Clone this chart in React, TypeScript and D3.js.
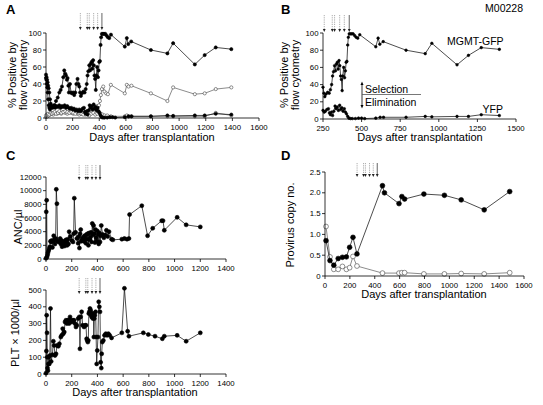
import React from 'react';
import * as d3 from 'd3';

type P = [number, number];

// Days of the treatment arrows
const arrowDays = [258, 310, 325, 358, 388, 420];

// Panel A / B: % positive by flow cytometry
const gfpGran: P[] = [[0,51],[4,48],[8,45],[12,42],[16,38],[20,35],[25,30],[30,22],[35,17],[40,13],[50,12],[55,14],[65,15],[75,20],[88,24],[100,30],[110,33],[120,37],[130,48],[137,56],[145,52],[150,50],[157,45],[162,47],[168,38],[172,30],[180,40],[188,30],[195,29],[205,30],[212,27],[220,30],[228,40],[237,46],[244,40],[250,37],[256,30],[262,26],[270,29],[280,31],[290,30],[298,34],[306,40],[312,50],[318,55],[325,62],[331,56],[337,64],[343,66],[348,58],[354,68],[359,62],[364,50],[369,46],[374,33],[378,50],[384,60],[390,48],[395,56],[400,66],[405,67],[410,86],[414,95],[420,99],[428,99],[436,99],[445,99],[455,97],[465,95],[475,94],[488,98],[592,84],[607,94],[618,87],[640,90],[788,80],[912,76],[955,88],[1118,63],[1192,74],[1275,83],[1392,81]];
const gfpLymph: P[] = [[0,3],[8,4],[15,5],[25,4],[35,6],[45,5],[55,6],[65,7],[75,5],[90,6],[100,8],[115,6],[130,7],[145,8],[160,7],[175,6],[190,7],[205,6],[220,5],[235,7],[250,6],[265,5],[280,4],[295,6],[310,7],[325,9],[340,10],[355,11],[370,13],[385,14],[398,15],[405,20],[412,27],[420,34],[430,37],[440,31],[452,29],[465,28],[487,39],[592,29],[607,39],[620,37],[642,38],[788,29],[912,20],[955,36],[1118,28],[1192,29],[1275,34],[1392,36]];
const yfpGran: P[] = [[0,47],[3,45],[6,40],[9,36],[12,30],[16,22],[20,15],[25,12],[30,10],[35,12],[40,14],[50,13],[60,15],[70,12],[80,14],[90,13],[100,15],[110,12],[120,14],[130,13],[140,15],[150,12],[160,14],[170,12],[180,11],[190,12],[200,10],[210,11],[220,9],[230,10],[240,8],[250,10],[258,8],[265,9],[275,11],[285,12],[292,7],[298,5],[305,8],[312,4],[320,9],[328,15],[335,12],[342,14],[350,10],[358,16],[365,11],[372,13],[380,9],[388,12],[395,8],[402,6],[410,3],[418,1],[428,0.5],[440,0.5],[460,0.5],[480,1],[500,1],[520,0.5],[592,1],[620,2],[642,2],[788,2],[912,3],[955,2.5],[1118,3],[1192,3],[1275,5],[1392,4]];
const yfpLymph: P[] = [[0,1],[10,2],[20,3],[30,4],[40,5],[55,4],[70,6],[85,5],[100,6],[115,5],[130,7],[145,6],[160,5],[175,7],[190,6],[205,5],[220,6],[235,5],[250,4],[265,5],[280,6],[295,4],[310,5],[325,3],[340,5],[355,6],[370,4],[385,5],[400,6],[412,5],[425,4],[440,3],[460,3],[487,2],[592,2],[607,3],[620,2],[642,2],[788,2],[912,2],[955,2],[1118,2],[1192,2],[1275,6],[1392,3]];

// Panel C: ANC/µl
const anc: P[] = [[0,100],[2,6900],[5,8600],[8,300],[12,600],[15,900],[20,1200],[25,1500],[30,1800],[35,2600],[40,2500],[45,2700],[50,1700],[55,2600],[60,3400],[65,2800],[70,2200],[75,3000],[80,10200],[85,8100],[90,2600],[100,2500],[110,3000],[115,2200],[120,2700],[125,1800],[130,2300],[135,2100],[140,2600],[145,1900],[150,2300],[155,2800],[160,2400],[165,2000],[170,2900],[175,2200],[180,4000],[190,3300],[200,2700],[210,2500],[215,3700],[220,8900],[230,3900],[240,3000],[250,2300],[255,3300],[260,1600],[265,3700],[270,4300],[275,2600],[280,2900],[290,3200],[295,2600],[300,3400],[305,2900],[310,2300],[315,3600],[320,2900],[325,3700],[330,2000],[335,3800],[340,2800],[345,3200],[350,3900],[355,2500],[360,5200],[365,3500],[370,4900],[375,3700],[380,2400],[385,4300],[390,3100],[395,2600],[400,4100],[405,3600],[410,2200],[415,3800],[420,2500],[425,3400],[430,4900],[440,3600],[450,3100],[460,3500],[470,4200],[480,3300],[490,4000],[510,2900],[520,2800],[590,2900],[610,3000],[630,2900],[645,3000],[650,6500],[745,7800],[790,3400],[830,4500],[900,5600],[910,5600],[920,4200],[1020,6100],[1090,5000],[1200,4700]];

// Panel C: PLT x 1000/µl
const plt: P[] = [[0,5],[3,137],[5,350],[8,245],[10,100],[12,35],[15,20],[18,60],[22,100],[26,60],[30,110],[35,390],[40,75],[50,115],[57,195],[63,170],[70,110],[78,120],[85,170],[96,165],[104,180],[115,220],[122,230],[130,270],[135,240],[142,250],[148,310],[155,320],[162,300],[168,320],[174,320],[180,300],[187,340],[195,320],[200,310],[210,320],[218,320],[225,300],[233,280],[240,290],[250,330],[259,340],[264,150],[270,340],[277,370],[285,290],[296,280],[305,290],[311,290],[316,210],[321,200],[325,190],[329,200],[333,360],[337,370],[342,390],[347,380],[351,350],[355,340],[360,360],[364,330],[368,360],[372,220],[376,330],[380,350],[386,370],[390,220],[394,60],[399,140],[404,220],[410,430],[415,400],[420,370],[425,70],[430,35],[433,120],[438,190],[446,200],[455,230],[465,240],[475,230],[485,240],[495,230],[510,215],[590,245],[610,510],[635,255],[645,225],[757,245],[796,235],[848,225],[905,210],[920,225],[1020,230],[1090,195],[1200,245]];

// Panel D: provirus copy number
const copyFilled: P[] = [[8,0.85],[40,0.37],[71,0.26],[106,0.42],[140,0.45],[172,0.46],[198,0.69],[225,0.93],[257,0.53],[462,2.17],[478,2.0],[595,1.74],[618,1.91],[640,1.85],[795,1.97],[960,1.94],[1095,1.83],[1280,1.59],[1485,2.03]];
const copyOpen: P[] = [[8,1.19],[40,0.46],[71,0.16],[106,0.16],[140,0.23],[172,0.16],[198,0.2],[225,0.47],[257,0.24],[462,0.07],[595,0.07],[618,0.08],[640,0.08],[795,0.05],[960,0.05],[1095,0.06],[1280,0.05],[1485,0.08]];

const ticksA = [0, 200, 400, 600, 800, 1000, 1200, 1400, 1600];
const ticksB = [250, 500, 750, 1000, 1250, 1500];
const ticksC = [0, 200, 400, 600, 800, 1000, 1200, 1400];
const ticksPct = [0, 20, 40, 60, 80, 100];
const ticksAnc = [0, 2000, 4000, 6000, 8000, 10000, 12000];
const ticksPlt = [0, 100, 200, 300, 400, 500];
const ticksCopy = [0, 0.5, 1.0, 1.5, 2.0, 2.5];

const FONT = "'Liberation Sans', Arial, Helvetica, sans-serif";
const TICK_FS = 7.8;

type Scale = d3.ScaleLinear<number, number>;

function Series({ data, x, y, filled, r }: { data: P[]; x: Scale; y: Scale; filled: boolean; r: number }) {
  const line = d3.line<P>().x(d => x(d[0])).y(d => y(d[1]));
  return (
    <g>
      <path d={line(data) || ''} fill="none" stroke={filled ? '#111' : '#666'} strokeWidth={0.75} />
      {data.map((d, i) => (
        <circle key={i} cx={x(d[0])} cy={y(d[1])} r={r}
          fill={filled ? '#000' : '#fff'} stroke={filled ? '#000' : '#444'} strokeWidth={0.6} />
      ))}
    </g>
  );
}

function XAxis({ x, y0, ticks, fmt }: { x: Scale; y0: number; ticks: number[]; fmt?: (v: number) => string }) {
  const [a, b] = x.range();
  return (
    <g>
      <line x1={a} x2={b} y1={y0} y2={y0} stroke="#000" strokeWidth={0.8} />
      {ticks.map(t => (
        <g key={t}>
          <line x1={x(t)} x2={x(t)} y1={y0} y2={y0 + 3} stroke="#000" strokeWidth={0.8} />
          <text x={x(t)} y={y0 + 11.5} textAnchor="middle" fontSize={TICK_FS} fontFamily={FONT}>{fmt ? fmt(t) : String(t)}</text>
        </g>
      ))}
    </g>
  );
}

function YAxis({ y, x0, ticks, fmt }: { y: Scale; x0: number; ticks: number[]; fmt?: (v: number) => string }) {
  const [a, b] = y.range();
  return (
    <g>
      <line x1={x0} x2={x0} y1={a} y2={b} stroke="#000" strokeWidth={0.8} />
      {ticks.map(t => (
        <g key={t}>
          <line x1={x0 - 3} x2={x0} y1={y(t)} y2={y(t)} stroke="#000" strokeWidth={0.8} />
          <text x={x0 - 4.5} y={y(t)} dy="0.34em" textAnchor="end" fontSize={TICK_FS} fontFamily={FONT}>{fmt ? fmt(t) : String(t)}</text>
        </g>
      ))}
    </g>
  );
}

function Arrows({ x, y1, y2 }: { x: Scale; y1: number; y2: number }) {
  return (
    <g>
      {arrowDays.map((d, i) => {
        const cx = x(d);
        const last = i === arrowDays.length - 1;
        return (
          <g key={i}>
            <line x1={cx} x2={cx} y1={y1} y2={y2 - 2} stroke={last ? '#222' : '#888'} strokeWidth={0.7}
              strokeDasharray={last ? undefined : '1.2,1'} />
            <path d={`M${cx - 1.4},${y2 - 3} L${cx + 1.4},${y2 - 3} L${cx},${y2} Z`} fill="#222" />
          </g>
        );
      })}
    </g>
  );
}

function YTitle({ x, y, lines, fs = 11 }: { x: number; y: number; lines: string[]; fs?: number }) {
  return (
    <g>
      {lines.map((l, i) => (
        <text key={i} transform={`translate(${x + i * 11},${y}) rotate(-90)`} textAnchor="middle" fontSize={fs} fontFamily={FONT}>{l}</text>
      ))}
    </g>
  );
}

function Label({ x, y, text }: { x: number; y: number; text: string }) {
  return <text x={x} y={y} fontSize={13} fontWeight="bold" fontFamily={FONT}>{text}</text>;
}

export default function App() {
  // Panel A
  const xA = d3.scaleLinear().domain([0, 1600]).range([46, 259]);
  const yA = d3.scaleLinear().domain([0, 100]).range([118, 33]);
  // Panel B
  const xB = d3.scaleLinear().domain([250, 1500]).range([323, 516]);
  const yB = d3.scaleLinear().domain([0, 100]).range([119, 33]);
  // Panel C
  const xC = d3.scaleLinear().domain([0, 1400]).range([46, 226]);
  const yC1 = d3.scaleLinear().domain([0, 12000]).range([259, 177]);
  const yC2 = d3.scaleLinear().domain([0, 500]).range([374, 290]);
  // Panel D
  const xD = d3.scaleLinear().domain([0, 1600]).range([325, 524]);
  const yD = d3.scaleLinear().domain([0, 2.5]).range([276, 172]);

  const bG = gfpGran.filter(d => d[0] >= 250);
  const bY = yfpGran.filter(d => d[0] >= 250);
  const fmtCopy = (v: number) => (v === 0 ? '0' : v.toFixed(1));

  return (
    <svg width={543} height={405} style={{ position: 'absolute', left: 0, top: 0, background: '#fff' }}>
      <rect width={543} height={405} fill="#fff" />
      {/* Panel A */}
      <Label x={6} y={14} text="A" />
      <Arrows x={xA} y1={13} y2={30} />
      <Series data={yfpLymph} x={xA} y={yA} filled={false} r={1.6} />
      <Series data={gfpLymph} x={xA} y={yA} filled={false} r={1.6} />
      <Series data={yfpGran} x={xA} y={yA} filled={true} r={1.6} />
      <Series data={gfpGran} x={xA} y={yA} filled={true} r={1.6} />
      <YAxis y={yA} x0={46} ticks={ticksPct} />
      <XAxis x={xA} y0={118} ticks={ticksA} />
      <YTitle x={16} y={75} lines={['% Positive by', 'flow cytometry']} />
      <text x={152} y={141} textAnchor="middle" fontSize={11} fontFamily={FONT}>Days after transplantation</text>

      {/* Panel B */}
      <Label x={281} y={14} text="B" />
      <text x={523} y={12} textAnchor="end" fontSize={10.5} fontFamily={FONT}>M00228</text>
      <Arrows x={xB} y1={15} y2={32} />
      <Series data={bY} x={xB} y={yB} filled={true} r={1.3} />
      <Series data={bG} x={xB} y={yB} filled={true} r={1.3} />
      <YAxis y={yB} x0={323} ticks={ticksPct} />
      <XAxis x={xB} y0={119} ticks={ticksB} />
      <YTitle x={288} y={75} lines={['% Positive by', 'flow cytometry']} />
      <text x={420} y={141} textAnchor="middle" fontSize={11} fontFamily={FONT}>Days after transplantation</text>
      <text x={447} y={45} fontSize={10.5} fontFamily={FONT}>MGMT-GFP</text>
      <text x={503} y={113} textAnchor="end" fontSize={10.5} fontFamily={FONT}>YFP</text>
      <g>
        <line x1={362} x2={362} y1={84} y2={106} stroke="#000" strokeWidth={0.8} />
        <path d="M360.5,85 L363.5,85 L362,81.5 Z" fill="#000" />
        <path d="M360.5,105 L363.5,105 L362,108.5 Z" fill="#000" />
        <line x1={362} x2={421} y1={94.5} y2={94.5} stroke="#555" strokeWidth={0.8} />
        <text x={365} y={92.5} fontSize={10.5} fontFamily={FONT}>Selection</text>
        <text x={365} y={106} fontSize={10.5} fontFamily={FONT}>Elimination</text>
      </g>

      {/* Panel C */}
      <Label x={6} y={160} text="C" />
      <Arrows x={xC} y1={165} y2={180} />
      <Series data={anc} x={xC} y={yC1} filled={true} r={2} />
      <YAxis y={yC1} x0={46} ticks={ticksAnc} />
      <XAxis x={xC} y0={259} ticks={ticksC} />
      <YTitle x={22} y={227} lines={['ANC/µl']} />

      <Arrows x={xC} y1={278} y2={294} />
      <Series data={plt} x={xC} y={yC2} filled={true} r={2} />
      <YAxis y={yC2} x0={46} ticks={ticksPlt} />
      <XAxis x={xC} y0={374} ticks={ticksC} />
      <YTitle x={19} y={333} lines={['PLT × 1000/µl']} />
      <text x={135} y={396} textAnchor="middle" fontSize={11} fontFamily={FONT}>Days after transplantation</text>

      {/* Panel D */}
      <Label x={281} y={160} text="D" />
      <Arrows x={xD} y1={163} y2={177} />
      <Series data={copyOpen} x={xD} y={yD} filled={false} r={2.4} />
      <Series data={copyFilled} x={xD} y={yD} filled={true} r={2.4} />
      <YAxis y={yD} x0={325} ticks={ticksCopy} fmt={fmtCopy} />
      <XAxis x={xD} y0={276} ticks={ticksA} />
      <YTitle x={294} y={225} lines={['Provirus copy no.']} />
      <text x={424} y={298} textAnchor="middle" fontSize={11} fontFamily={FONT}>Days after transplantation</text>
    </svg>
  );
}
